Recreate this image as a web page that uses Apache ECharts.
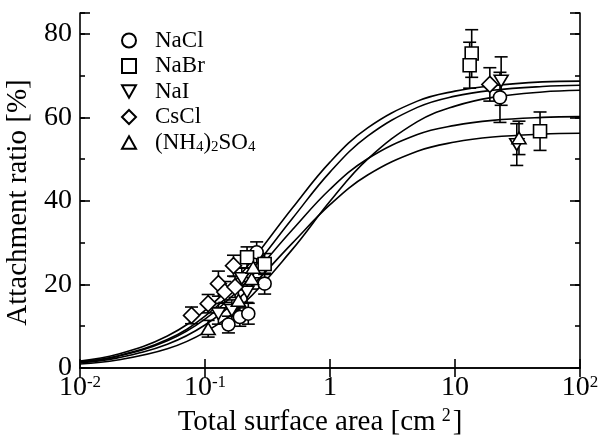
<!DOCTYPE html>
<html><head><meta charset="utf-8">
<script src="https://cdn.jsdelivr.net/npm/echarts@6/dist/echarts.min.js"></script>
<style>html,body{margin:0;padding:0;background:#fff}#c{width:600px;height:437px}</style>
</head><body><div id="c"></div>
<script>
// ---- data (x = total surface area [cm^2], y = attachment ratio [%], e = error) ----
const seriesNames = ['NaCl', 'NaBr', 'NaI', 'CsCl', '(NH4)2SO4'];
const nacl = [[0.154, 10.4, 2.0], [0.19, 12.2, 2.2], [0.222, 13.0, 2.5], [0.259, 27.7, 2.5], [0.30, 20.2, 2.5], [22.9, 64.8, 6.0]];
const nabr = [[0.217, 26.5, 2.5], [0.30, 24.9, 2.5], [13.6, 75.3, 5.7], [13.1, 72.5, 5.5], [47.9, 56.7, 4.6]];
const nai  = [[0.128, 13.0, 2.5], [0.164, 13.8, 2.5], [0.197, 21.4, 2.5], [0.217, 18.2, 2.5], [23.4, 68.7, 5.8], [31.2, 53.5, 5.0]];
const cscl = [[0.078, 12.6, 2.0], [0.106, 15.4, 2.2], [0.128, 20.2, 3.0], [0.144, 18.2, 2.5], [0.174, 19.4, 2.5], [0.169, 24.5, 2.5], [19.0, 67.9, 4.0]];
const nh4  = [[0.106, 9.4, 2.0], [0.185, 16.2, 2.5], [0.236, 21.4, 2.5], [0.243, 24.1, 2.5], [32.5, 55.1, 4.0]];

// fitted curves
const curveX = [0.01, 0.02, 0.05, 0.1, 0.2, 0.5, 1, 2, 5, 10, 20, 50, 100];
const fit1 = [1.68, 3.29, 7.67, 13.8, 23.0, 38.3, 49.3, 57.5, 63.9, 66.3, 67.6, 68.5, 68.7];
const fit2 = [1.48, 2.89, 6.80, 12.4, 20.9, 35.8, 46.9, 55.5, 62.4, 65.1, 66.5, 67.4, 67.7];
const fit3 = [0.97, 1.91, 4.59, 8.59, 15.2, 28.4, 39.9, 50.0, 59.0, 62.7, 64.8, 66.1, 66.5];
const fit4 = [1.42, 2.78, 6.51, 11.7, 19.7, 33.1, 42.8, 50.1, 55.9, 58.1, 59.3, 60.0, 60.2];
const fit5 = [1.24, 2.42, 5.70, 10.3, 17.5, 29.9, 39.1, 46.2, 51.9, 54.1, 55.3, 56.0, 56.2];

const xTickValues = [0.01, 0.1, 1, 10, 100];
const xTickLabels = ['10^-2', '10^-1', '1', '10', '10^2'];
const yTickValues = [0, 20, 40, 60, 80];

// ---- chart ----
const FONT = 'Liberation Serif';
const chart = echarts.init(document.getElementById('c'), null, { renderer: 'canvas' });

function xLabel(v) {
  const i = xTickValues.findIndex(t => Math.abs(Math.log10(t) - Math.log10(v)) < 1e-6);
  if (i < 0) return '';
  const s = xTickLabels[i];
  if (s.indexOf('^') >= 0) { const p = s.split('^'); return '{b|' + p[0] + '}{sup|' + p[1] + '}'; }
  return '{b|' + s + '}';
}
function legendLabel(name) {
  if (name === '(NH4)2SO4') return '{a|(NH}{sub|4}{a|)}{sub|2}{a|SO}{sub|4}';
  return '{a|' + name + '}';
}
function pairs(xs, ys) { return xs.map((x, i) => [x, ys[i]]); }

const black = '#000';
const symbols = {
  'NaCl': 'circle',
  'NaBr': 'rect',
  'NaI': 'path://M0,0L20,0L10,18Z',
  'CsCl': 'diamond',
  '(NH4)2SO4': 'path://M10,0L20,18L0,18Z'
};
const symSizes = { 'NaCl': 13, 'NaBr': 13, 'NaI': [14, 13], 'CsCl': 16, '(NH4)2SO4': [14, 13] };
const dataMap = { 'NaCl': nacl, 'NaBr': nabr, 'NaI': nai, 'CsCl': cscl, '(NH4)2SO4': nh4 };

function errSeries(name, data) {
  return {
    type: 'custom', name: name + ' err', xAxisIndex: 0, yAxisIndex: 0, z: 3, silent: true,
    data: data, encode: { x: 0, y: 1 },
    renderItem: function (params, api) {
      const x = api.value(0), y = api.value(1), e = api.value(2);
      const t = api.coord([x, y + e]), b = api.coord([x, y - e]);
      const w = 6.5;
      const st = { stroke: black, lineWidth: 1.6, fill: null };
      return {
        type: 'group', children: [
          { type: 'line', shape: { x1: t[0], y1: t[1], x2: b[0], y2: b[1] }, style: st },
          { type: 'line', shape: { x1: t[0] - w, y1: t[1], x2: t[0] + w, y2: t[1] }, style: st },
          { type: 'line', shape: { x1: b[0] - w, y1: b[1], x2: b[0] + w, y2: b[1] }, style: st }
        ]
      };
    }
  };
}

const series = [];
[fit1, fit2, fit3, fit4, fit5].forEach((f, i) => {
  series.push({
    type: 'line', name: 'fit' + (i + 1), data: pairs(curveX, f), smooth: 0.4, showSymbol: false,
    silent: true, z: 2, lineStyle: { color: black, width: 1.6 }, itemStyle: { color: black }
  });
});
seriesNames.forEach(n => series.push(errSeries(n, dataMap[n])));
seriesNames.forEach(n => series.push({
  type: 'scatter', name: n, data: dataMap[n].map(d => [d[0], d[1]]),
  symbol: symbols[n], symbolSize: symSizes[n], symbolKeepAspect: true, z: 4,
  itemStyle: { color: '#fff', borderColor: black, borderWidth: 1.6, opacity: 1 }
}));

const tickStyle = { color: black, width: 1.6 };
const option = {
  backgroundColor: '#fff',
  animation: false,
  textStyle: { fontFamily: FONT, color: black },
  grid: { left: 80, right: 20, top: 13, bottom: 69, containLabel: false, outerBoundsMode: 'none' },
  legend: {
    data: seriesNames, orient: 'vertical', left: 116, top: 24, itemGap: 2.5,
    itemWidth: 14, itemHeight: 14, selectedMode: false, symbolKeepAspect: true,
    formatter: legendLabel,
    textStyle: {
      fontFamily: FONT, fontSize: 23, color: black, padding: [0, 0, 0, 14],
      rich: {
        a: { fontFamily: FONT, fontSize: 23, lineHeight: 23, color: black },
        sub: { fontFamily: FONT, fontSize: 15, color: black, verticalAlign: 'bottom', lineHeight: 25 }
      }
    }
  },
  xAxis: [
    {
      type: 'log', logBase: 10, min: 0.01, max: 100, position: 'bottom',
      name: '{a|Total surface area [cm}{sup|2}{a|]}', nameLocation: 'middle', nameGap: 36,
      nameTextStyle: {
        fontFamily: FONT, fontSize: 29, color: black, padding: [0, 20, 0, 0],
        rich: {
          a: { fontFamily: FONT, fontSize: 29, color: black, lineHeight: 30 },
          sup: { fontFamily: FONT, fontSize: 18, color: black, verticalAlign: 'top', lineHeight: 18, padding: [0, 2, 0, 6] }
        }
      },
      axisLine: { show: true, lineStyle: tickStyle },
      axisTick: { show: true, inside: true, length: 9, lineStyle: tickStyle },
      minorTick: { show: false },
      splitLine: { show: false },
      axisLabel: {
        formatter: xLabel, margin: 6, color: black,
        rich: {
          b: { fontFamily: FONT, fontSize: 28, color: black, lineHeight: 28 },
          sup: { fontFamily: FONT, fontSize: 17, color: black, verticalAlign: 'top', lineHeight: 17 }
        }
      }
    },
    {
      type: 'log', logBase: 10, min: 0.01, max: 100, position: 'top',
      axisLine: { show: true, lineStyle: tickStyle },
      axisTick: { show: true, inside: true, length: 9, lineStyle: tickStyle },
      splitLine: { show: false }, axisLabel: { show: false }
    }
  ],
  yAxis: [
    {
      type: 'value', min: 0, max: 85, interval: 20, position: 'left',
      name: 'Attachment ratio [%]', nameLocation: 'middle', nameGap: 46,
      nameTextStyle: { fontFamily: FONT, fontSize: 29, color: black, padding: [0, 24, 0, 0] },
      axisLine: { show: true, lineStyle: tickStyle },
      axisTick: { show: true, inside: true, length: 10, lineStyle: tickStyle },
      splitLine: { show: false },
      axisLabel: {
        margin: 8, fontFamily: FONT, fontSize: 28, color: black,
        formatter: v => (yTickValues.indexOf(v) >= 0 ? String(v) : '')
      }
    },
    {
      type: 'value', min: 0, max: 85, interval: 10, position: 'left',
      axisLine: { show: false },
      axisTick: { show: true, inside: true, length: 5, lineStyle: tickStyle },
      splitLine: { show: false }, axisLabel: { show: false }
    },
    {
      type: 'value', min: 0, max: 85, interval: 20, position: 'right',
      axisLine: { show: true, lineStyle: tickStyle },
      axisTick: { show: true, inside: true, length: 10, lineStyle: tickStyle },
      splitLine: { show: false }, axisLabel: { show: false }
    },
    {
      type: 'value', min: 0, max: 85, interval: 10, position: 'right',
      axisLine: { show: false },
      axisTick: { show: true, inside: true, length: 5, lineStyle: tickStyle },
      splitLine: { show: false }, axisLabel: { show: false }
    }
  ],
  series: series
};
chart.setOption(option);
</script>
</body></html>
